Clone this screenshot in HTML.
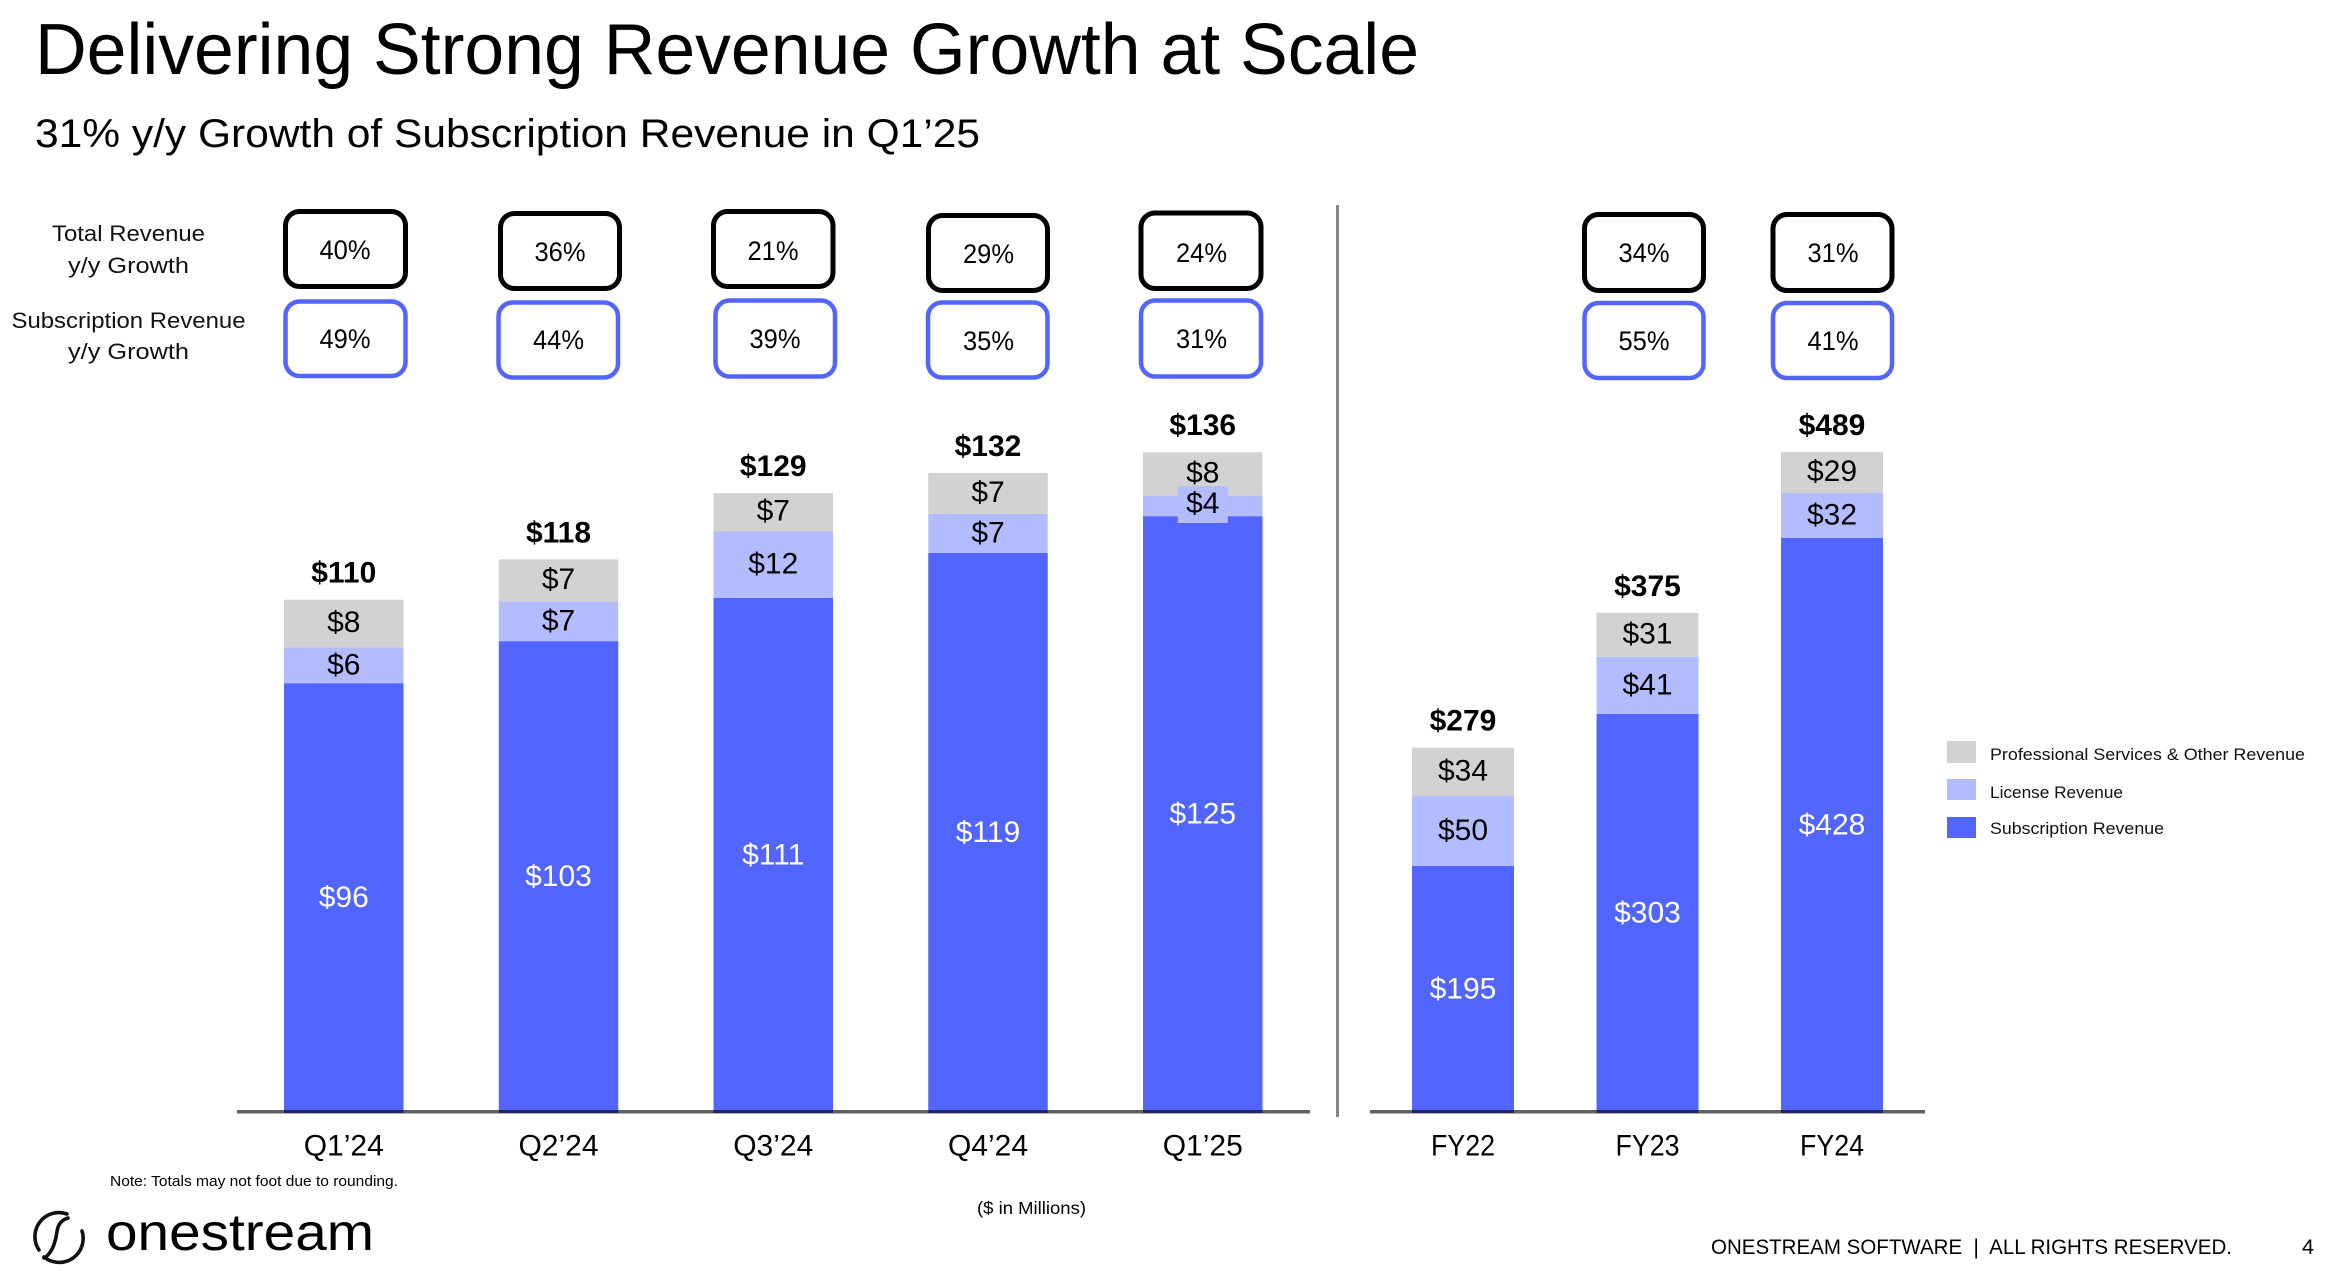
<!DOCTYPE html>
<html lang="en">
<head>
<meta charset="utf-8">
<title>Delivering Strong Revenue Growth at Scale</title>
<style>
html,body{margin:0;padding:0;background:#fff;}
svg{display:block;}
text{font-family:"Liberation Sans",sans-serif;fill:#000;}
.tb{fill:#fff;stroke:#000;stroke-width:5;}
.sb{fill:#fff;stroke:#5266ff;stroke-width:4.5;}
.pct{font-size:27px;text-anchor:middle;}
.side{font-size:22px;text-anchor:middle;fill:#111;}
.seg{font-size:30px;text-anchor:middle;}
.tot{font-size:30px;font-weight:bold;text-anchor:middle;}
.cat{font-size:30px;text-anchor:middle;}
.leg{font-size:17px;fill:#111;}
</style>
</head>
<body>
<svg id="slide" xmlns="http://www.w3.org/2000/svg" width="2352" height="1286" viewBox="0 0 2352 1286">
<rect x="0" y="0" width="2352" height="1286" fill="#fff"/>
<text x="35" y="74" font-size="72" textLength="1384" lengthAdjust="spacingAndGlyphs">Delivering Strong Revenue Growth at Scale</text>
<text x="35" y="147" font-size="40" textLength="945" lengthAdjust="spacingAndGlyphs" fill="#111">31% y/y Growth of Subscription Revenue in Q1’25</text>

<text class="side" x="128.5" y="241" textLength="153" lengthAdjust="spacingAndGlyphs">Total Revenue</text>
<text class="side" x="128.5" y="273" textLength="121" lengthAdjust="spacingAndGlyphs">y/y Growth</text>
<text class="side" x="128.5" y="328" textLength="234" lengthAdjust="spacingAndGlyphs">Subscription Revenue</text>
<text class="side" x="128.5" y="359" textLength="121" lengthAdjust="spacingAndGlyphs">y/y Growth</text>

<g>
<g><rect class="tb" x="285.5" y="211.5" width="120" height="75" rx="14"/><text class="pct" x="345" y="259" textLength="51" lengthAdjust="spacingAndGlyphs">40%</text></g>
<g><rect class="tb" x="500.5" y="213.5" width="119" height="75" rx="14"/><text class="pct" x="560" y="261" textLength="51" lengthAdjust="spacingAndGlyphs">36%</text></g>
<g><rect class="tb" x="713.5" y="211.5" width="119.5" height="75" rx="14"/><text class="pct" x="773" y="260" textLength="51" lengthAdjust="spacingAndGlyphs">21%</text></g>
<g><rect class="tb" x="928.5" y="215.5" width="119" height="75" rx="14"/><text class="pct" x="988.5" y="263" textLength="51" lengthAdjust="spacingAndGlyphs">29%</text></g>
<g><rect class="tb" x="1141" y="213" width="120" height="75.5" rx="14"/><text class="pct" x="1201.5" y="262" textLength="51" lengthAdjust="spacingAndGlyphs">24%</text></g>
<g><rect class="tb" x="1584.5" y="214.5" width="119" height="76" rx="14"/><text class="pct" x="1644" y="262" textLength="51" lengthAdjust="spacingAndGlyphs">34%</text></g>
<g><rect class="tb" x="1773" y="214.5" width="119" height="76" rx="14"/><text class="pct" x="1833" y="262" textLength="51" lengthAdjust="spacingAndGlyphs">31%</text></g>
</g>

<g>
<g><rect class="sb" x="285.5" y="301.5" width="120" height="74.5" rx="14"/><text class="pct" x="345" y="348" textLength="51" lengthAdjust="spacingAndGlyphs">49%</text></g>
<g><rect class="sb" x="498.5" y="302.5" width="119.5" height="75" rx="14"/><text class="pct" x="558.5" y="349" textLength="51" lengthAdjust="spacingAndGlyphs">44%</text></g>
<g><rect class="sb" x="715.5" y="300.5" width="119.5" height="76" rx="14"/><text class="pct" x="775" y="348" textLength="51" lengthAdjust="spacingAndGlyphs">39%</text></g>
<g><rect class="sb" x="928" y="302.5" width="119.5" height="75" rx="14"/><text class="pct" x="988.5" y="350" textLength="51" lengthAdjust="spacingAndGlyphs">35%</text></g>
<g><rect class="sb" x="1141" y="300.5" width="120" height="76" rx="14"/><text class="pct" x="1201.5" y="348" textLength="51" lengthAdjust="spacingAndGlyphs">31%</text></g>
<g><rect class="sb" x="1584.5" y="303" width="119" height="75" rx="14"/><text class="pct" x="1644" y="350" textLength="51" lengthAdjust="spacingAndGlyphs">55%</text></g>
<g><rect class="sb" x="1773" y="303" width="119" height="75" rx="14"/><text class="pct" x="1833" y="350" textLength="51" lengthAdjust="spacingAndGlyphs">41%</text></g>
</g>

<g id="quarter-chart"></g>
<g id="fy-chart"></g>

<rect x="237" y="1110" width="1073" height="3.5" fill="#000" fill-opacity="0.62"/>
<rect x="1370" y="1110" width="555" height="3.5" fill="#000" fill-opacity="0.62"/>
<rect x="1336" y="205" width="3" height="912" fill="#858585"/>

<g>
<rect x="1947" y="741" width="29" height="22" fill="#d2d2d2"/>
<text class="leg" x="1990" y="760" textLength="315" lengthAdjust="spacingAndGlyphs">Professional Services &amp; Other Revenue</text>
<rect x="1947" y="779" width="29" height="21" fill="#b3bcff"/>
<text class="leg" x="1990" y="798" textLength="133" lengthAdjust="spacingAndGlyphs">License Revenue</text>
<rect x="1947" y="817" width="29" height="21" fill="#5266ff"/>
<text class="leg" x="1990" y="834" textLength="174" lengthAdjust="spacingAndGlyphs">Subscription Revenue</text>
</g>

<text x="110" y="1186" font-size="14.5" textLength="288" lengthAdjust="spacingAndGlyphs" fill="#222">Note: Totals may not foot due to rounding.</text>
<text x="977" y="1214" font-size="17.5" textLength="109" lengthAdjust="spacingAndGlyphs" fill="#222">($ in Millions)</text>

<g>
<g fill="none" stroke="#111" stroke-width="3.6" stroke-linecap="round">
<path d="M67 1214 A24 24 0 0 0 39 1250"/>
<path d="M68 1218 C55 1222 58 1233 55 1241 C53 1249 49 1255 44 1258"/>
<path d="M82 1231 A24 24 0 0 1 44 1257"/>
</g>
<text x="106" y="1250" font-size="52" textLength="268" lengthAdjust="spacingAndGlyphs" fill="#111">onestream</text>
</g>

<text x="1711" y="1254" font-size="21.5" textLength="521" lengthAdjust="spacingAndGlyphs" fill="#111">ONESTREAM SOFTWARE &#160;|&#160; ALL RIGHTS RESERVED.</text>
<text x="2302" y="1254" font-size="21.5" fill="#111">4</text>
</svg>

<script>
const quarterCategories = ["Q1’24", "Q2’24", "Q3’24", "Q4’24", "Q1’25"];
const quarterSubscription = [96, 103.3, 110.8, 118.6, 125];
const quarterLicense = [6.2, 6.9, 11.6, 6.8, 3.5];
const quarterServices = [8.3, 7.3, 6.6, 7.1, 7.6];
const quarterTotals = [110, 118, 129, 132, 136];

const fyCategories = ["FY22", "FY23", "FY24"];
const fySubscription = [195, 303, 428];
const fyLicense = [49.7, 40.6, 32];
const fyServices = [34.4, 31.3, 29.1];
const fyTotals = [279, 375, 489];

const SVG_NS = "http://www.w3.org/2000/svg";
const BASE_Y = 1110;
const COLORS = { subscription: "#5266ff", license: "#b3bcff", services: "#d2d2d2" };

function yQuarter(v) { return BASE_Y - (v - 21.9) * 5.76; }
function hQuarter(v) { return v * 5.76; }
function xQuarter(i) { return 284 + i * 214.75; }
function yFy(v) { return BASE_Y - (v - 21.67) * 1.4077; }
function hFy(v) { return v * 1.4077; }
function xFy(i) { return 1412 + i * 184.5; }

function mk(parent, tag, attrs, content) {
  const el = document.createElementNS(SVG_NS, tag);
  for (const k in attrs) el.setAttribute(k, attrs[k]);
  if (content !== undefined) el.textContent = content;
  parent.appendChild(el);
  return el;
}

function drawChart(rootId, cats, sub, lic, svc, totals, xFn, yFn, hFn, barW, catAttrs) {
  const root = document.getElementById(rootId);
  cats.forEach(function (cat, i) {
    const slug = cat.replace(/[’]/g, "-").toLowerCase();
    const x = xFn(i);
    const cx = x + barW / 2;
    const subTop = yFn(sub[i]);
    const licH = hFn(lic[i]);
    const svcH = hFn(svc[i]);
    const licTop = subTop - licH;
    const svcTop = licTop - svcH;

    const subBar = mk(root, "rect", { x: x, y: subTop, width: barW, height: BASE_Y + 3 - subTop, fill: COLORS.subscription });
    
    

    const licBar = mk(root, "rect", { x: x, y: licTop, width: barW, height: licH, fill: COLORS.license });
    
    

    const svcBar = mk(root, "rect", { x: x, y: svcTop, width: barW, height: svcH, fill: COLORS.services });
    
    

    const svcLabel = mk(root, "text", { class: "seg", x: cx, y: svcTop + svcH / 2 + 8.5 }, "$" + Math.round(svc[i]));
    
    

    const licCenter = licTop + licH / 2;
    const small = licH < 30;
    const licBase = licCenter + (small ? 7 : 9);
    if (small) {
      const pad = mk(root, "rect", { x: cx - 25, y: licBase - 27, width: 50, height: 37, fill: COLORS.license });
      
      
    }
    const licLabel = mk(root, "text", { class: "seg", x: cx, y: licBase }, "$" + Math.round(lic[i]));
    
    

    const subLabel = mk(root, "text", { class: "seg", x: cx, y: (subTop + BASE_Y) / 2 + 10.5, style: "fill:#fff" }, "$" + Math.round(sub[i]));
    
    

    const totLabel = mk(root, "text", { class: "tot", x: cx, y: svcTop - 17 }, "$" + totals[i]);
    
    

    const catLabel = mk(root, "text", Object.assign({ class: "cat", x: cx, y: 1155.5 }, catAttrs), cat);
    
    
  });
}

drawChart("quarter-chart", quarterCategories, quarterSubscription, quarterLicense, quarterServices, quarterTotals, xQuarter, yQuarter, hQuarter, 119.5, {});
drawChart("fy-chart", fyCategories, fySubscription, fyLicense, fyServices, fyTotals, xFy, yFy, hFy, 102, { textLength: 64, lengthAdjust: "spacingAndGlyphs" });
</script>
</body>
</html>
